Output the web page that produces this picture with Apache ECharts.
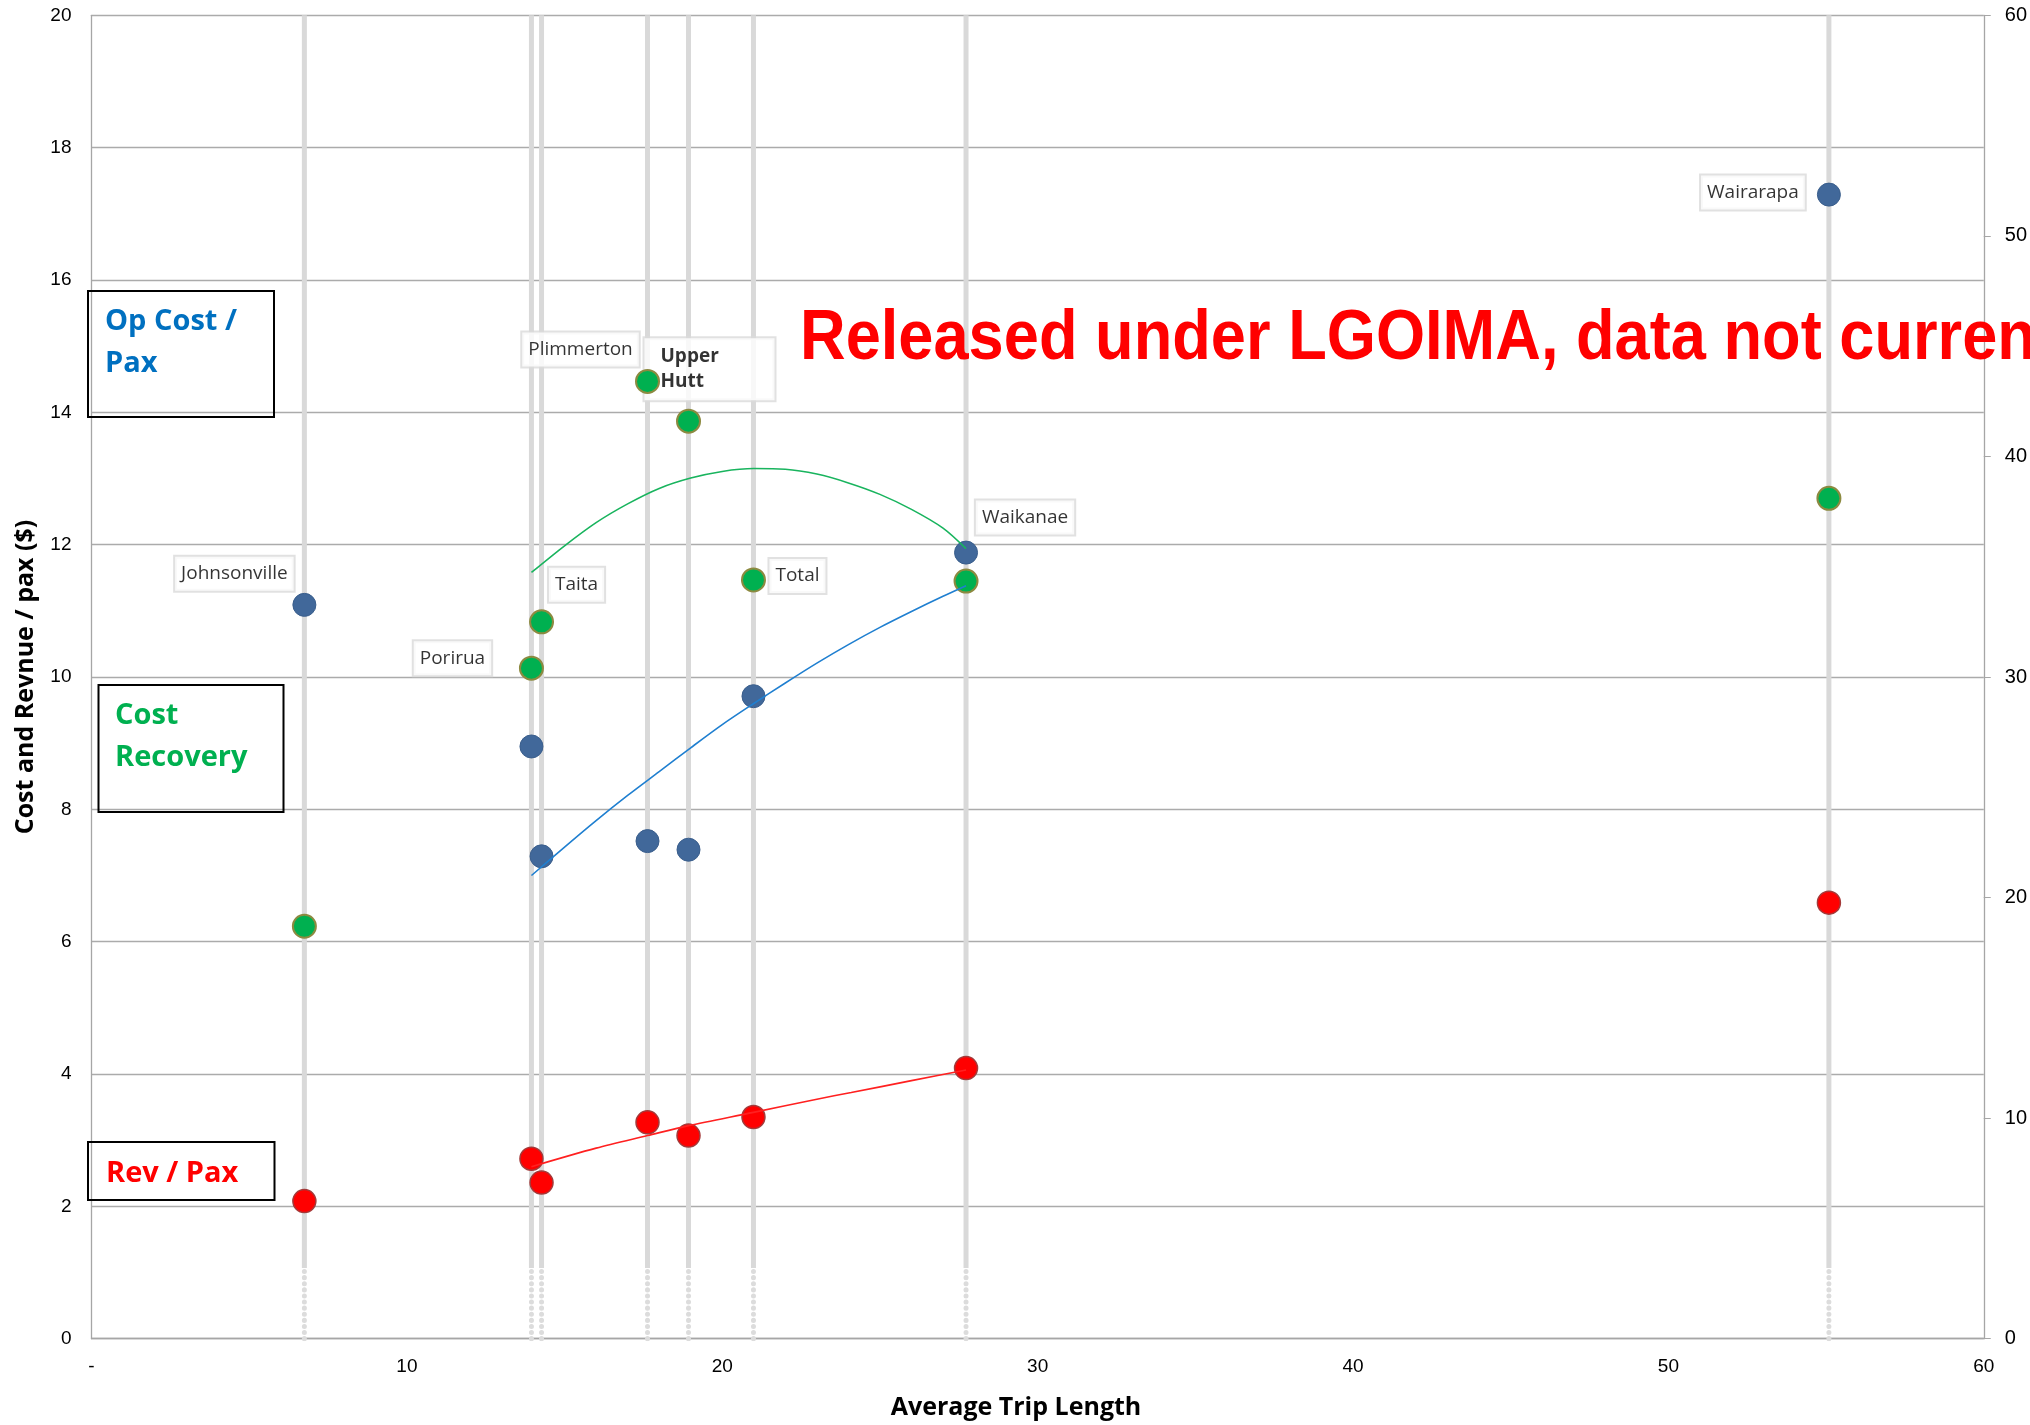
<!DOCTYPE html>
<html><head><meta charset="utf-8">
<script src="https://cdn.jsdelivr.net/npm/echarts@6/dist/echarts.min.js"></script>
<style>html,body{margin:0;padding:0;background:#fff}#c{width:2030px;height:1425px}</style>
</head><body><div id="c"></div>
<script>
// ---- data ----
const stations     = ['Johnsonville','Porirua','Taita','Plimmerton','Upper Hutt','Total','Waikanae','Wairarapa'];
const tripLength   = [6.75, 13.95, 14.27, 17.63, 18.93, 20.99, 27.73, 55.09];
const opCostPerPax = [11.09, 8.95, 7.29, 7.52, 7.39, 9.71, 11.88, 17.29];
const revPerPax    = [2.08, 2.72, 2.36, 3.27, 3.07, 3.35, 4.09, 6.59];
const costRecovery = [18.7, 30.4, 32.5, 43.4, 41.6, 34.4, 34.35, 38.1]; // % (right axis)

// trendlines
const costTrendX = [13.95, 15.0, 16.0, 17.0, 18.0, 19.0, 20.0, 21.0, 22.0, 23.0, 24.0, 25.0, 26.0, 27.0, 27.73];
const costTrendY = [7.00, 7.43, 7.83, 8.21, 8.57, 8.93, 9.28, 9.60, 9.91, 10.21, 10.49, 10.75, 10.99, 11.22, 11.38];
const recTrendX  = [13.95, 15.0, 16.0, 17.0, 18.0, 19.0, 20.0, 21.0, 22.0, 23.0, 24.0, 25.0, 26.0, 27.0, 27.73];
const recTrendY  = [34.74, 35.95, 37.00, 37.85, 38.55, 39.02, 39.32, 39.45, 39.42, 39.20, 38.80, 38.28, 37.60, 36.75, 35.82];
const revTrendX  = [13.95, 16.0, 17.63, 18.93, 20.99, 23.0, 24.09, 26.0, 27.73];
const revTrendY  = [2.60, 2.88, 3.07, 3.22, 3.42, 3.62, 3.72, 3.90, 4.06];

const leftTicks  = {min: 0, max: 20, interval: 2};
const rightTicks = {min: 0, max: 60, interval: 10};
const xTicks     = {min: 0, max: 60, interval: 10};

// label placement (style only)
const labelSpecs = [
  {i: 0, on: 'cost', off: [-70, -31]},
  {i: 1, on: 'rec',  off: [-79, -10]},
  {i: 2, on: 'rec',  off: [35, -37]},
  {i: 3, on: 'rec',  off: [-67, -32]},
  {i: 4, on: 'rec',  off: [-44, -52], upper: true},
  {i: 5, on: 'rec',  off: [44, -4]},
  {i: 6, on: 'cost', off: [59, -35]},
  {i: 7, on: 'cost', off: [-76, -2]}
];

const zip = (a, b) => a.map((v, k) => [v, b[k]]);
const FONT = 'Open Sans';
const AXFONT = 'Liberation Sans';

const series = [];
// light grey drop lines at each station
tripLength.forEach((x) => {
  series.push({type: 'line', data: [[x, 1.07], [x, 20]], symbol: 'none', silent: true, z: 1,
    lineStyle: {color: '#d9d9d9', width: 5}, animation: false});
  series.push({type: 'line', data: [[x, 0], [x, 1.07]], symbol: 'none', silent: true, z: 1,
    lineStyle: {color: '#dcdcdc', width: 5, type: [0.1, 6], cap: 'round'}, animation: false});
});

function labelSeries(kind) {
  const vals = kind === 'cost' ? opCostPerPax : costRecovery;
  const data = labelSpecs.filter(s => s.on === kind).map(s => {
    const item = {value: [tripLength[s.i], vals[s.i]], name: stations[s.i],
      label: {offset: s.off}};
    if (s.upper) {
      item.label = {offset: s.off, formatter: 'Upper\nHutt', fontWeight: 'bold', align: 'left',
        width: 106, lineHeight: 25, padding: [6, 8, 6, 16]};
    }
    return item;
  });
  return {type: 'scatter', yAxisIndex: kind === 'cost' ? 0 : 1, data, symbolSize: 1, z: 3,
    silent: true, animation: false, itemStyle: {color: 'rgba(0,0,0,0)'},
    label: {show: true, position: 'inside', formatter: p => p.name, color: '#000',
      fontFamily: FONT, fontSize: 19, lineHeight: 22, backgroundColor: '#fff',
      borderColor: '#d9d9d9', borderWidth: 2, padding: [6, 6], verticalAlign: 'middle'}};
}
series.push(labelSeries('cost'));
series.push(labelSeries('rec'));

series.push({type: 'scatter', name: 'Op Cost / Pax', data: zip(tripLength, opCostPerPax), symbolSize: 23, z: 4,
  itemStyle: {color: '#41689a', borderColor: '#3a5e8c', borderWidth: 1, opacity: 1}, animation: false});
series.push({type: 'scatter', name: 'Cost Recovery', yAxisIndex: 1, data: zip(tripLength, costRecovery), symbolSize: 23, z: 4,
  itemStyle: {color: '#00b050', borderColor: '#8c8a40', borderWidth: 2, opacity: 1}, animation: false});
series.push({type: 'scatter', name: 'Rev / Pax', data: zip(tripLength, revPerPax), symbolSize: 23, z: 4,
  itemStyle: {color: '#ff0000', borderColor: '#a33a3a', borderWidth: 1.5, opacity: 1}, animation: false});

const trendCommon = {type: 'line', smooth: 0.3, symbol: 'none', z: 5, silent: true, animation: false};
series.push(Object.assign({}, trendCommon, {data: zip(costTrendX, costTrendY),
  lineStyle: {color: '#1f7fd0', width: 1.6}}));
series.push(Object.assign({}, trendCommon, {yAxisIndex: 1, data: zip(recTrendX, recTrendY),
  lineStyle: {color: '#19b45e', width: 1.6}}));
series.push(Object.assign({}, trendCommon, {data: zip(revTrendX, revTrendY),
  lineStyle: {color: '#ff2020', width: 1.6}}));

const axisGrey = '#a6a6a6';
const option = {
  backgroundColor: '#fff',
  animation: false,
  grid: {left: 91.5, right: 40.7, top: 15.3, bottom: 86.3, containLabel: false},
  xAxis: {type: 'value', min: xTicks.min, max: xTicks.max, interval: xTicks.interval,
    axisLine: {show: true, lineStyle: {color: axisGrey, width: 1.3}}, axisTick: {show: false},
    splitLine: {show: false},
    axisLabel: {margin: 19, fontFamily: AXFONT, fontSize: 19, color: '#000',
      formatter: v => v === 0 ? '-' : String(v)}},
  yAxis: [
    {type: 'value', min: leftTicks.min, max: leftTicks.max, interval: leftTicks.interval,
      axisLine: {show: true, lineStyle: {color: axisGrey, width: 1.3}}, axisTick: {show: false},
      splitLine: {show: true, lineStyle: {color: '#ababab', width: 1.3}},
      axisLabel: {margin: 20, fontFamily: AXFONT, fontSize: 19, color: '#000'}},
    {type: 'value', min: rightTicks.min, max: rightTicks.max, interval: rightTicks.interval, position: 'right',
      axisLine: {show: true, lineStyle: {color: axisGrey, width: 1.3}},
      axisTick: {show: true, length: 7, lineStyle: {color: axisGrey}},
      splitLine: {show: false},
      axisLabel: {margin: 21, fontFamily: AXFONT, fontSize: 20, color: '#000'}}
  ],
  series,
  graphic: [
    {type: 'text', x: 25.5, y: 677, rotation: Math.PI / 2, z: 10,
      style: {text: 'Cost and Revnue / pax ($)', fontFamily: FONT, fontWeight: 'bold', fontSize: 25,
        fill: '#000', align: 'center', verticalAlign: 'middle'}},
    {type: 'text', x: 1016, y: 1408, z: 10,
      style: {text: 'Average Trip Length', fontFamily: FONT, fontWeight: 'bold', fontSize: 25,
        fill: '#000', align: 'center', verticalAlign: 'middle'}},
    // legend-like boxes
    {type: 'rect', shape: {x: 88, y: 291, width: 186, height: 126}, z: 10,
      style: {fill: 'rgba(0,0,0,0)', stroke: '#000', lineWidth: 2}},
    {type: 'text', x: 105, y: 322, z: 10, style: {text: 'Op Cost /', fontFamily: FONT, fontWeight: 'bold', fontSize: 29, fill: '#0070c0', verticalAlign: 'middle'}},
    {type: 'text', x: 105, y: 364, z: 10, style: {text: 'Pax', fontFamily: FONT, fontWeight: 'bold', fontSize: 29, fill: '#0070c0', verticalAlign: 'middle'}},
    {type: 'rect', shape: {x: 98.5, y: 685, width: 185, height: 127}, z: 10,
      style: {fill: 'rgba(0,0,0,0)', stroke: '#000', lineWidth: 2}},
    {type: 'text', x: 115, y: 716, z: 10, style: {text: 'Cost', fontFamily: FONT, fontWeight: 'bold', fontSize: 29, fill: '#00b050', verticalAlign: 'middle'}},
    {type: 'text', x: 115, y: 758, z: 10, style: {text: 'Recovery', fontFamily: FONT, fontWeight: 'bold', fontSize: 29, fill: '#00b050', verticalAlign: 'middle'}},
    {type: 'rect', shape: {x: 88, y: 1142, width: 186.5, height: 58}, z: 10,
      style: {fill: 'rgba(0,0,0,0)', stroke: '#000', lineWidth: 2}},
    {type: 'text', x: 106, y: 1174, z: 10, style: {text: 'Rev / Pax', fontFamily: FONT, fontWeight: 'bold', fontSize: 29, fill: '#ff0000', verticalAlign: 'middle'}},
    // watermark
    {type: 'text', x: 800, y: 339, scaleX: 0.89, z: 20,
      style: {text: 'Released under LGOIMA, data not current', fontFamily: 'Liberation Sans', fontWeight: 'bold',
        fontSize: 71, fill: '#ff0000', align: 'left', verticalAlign: 'middle'}}
  ]
};
const chart = echarts.init(document.getElementById('c'), null, {renderer: 'canvas'});
chart.setOption(option);
</script>
</body></html>
